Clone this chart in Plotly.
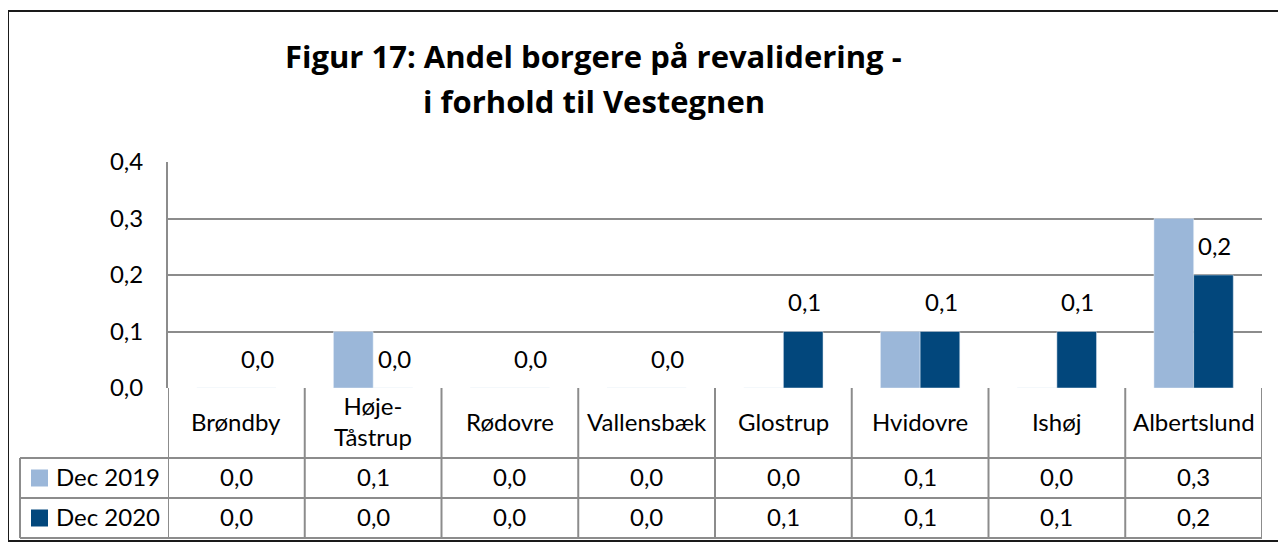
import plotly.graph_objects as go

categories = ["Brøndby", "Høje-Tåstrup", "Rødovre", "Vallensbæk", "Glostrup", "Hvidovre", "Ishøj", "Albertslund"]
category_labels = ["Brøndby", "Høje-<br>Tåstrup", "Rødovre", "Vallensbæk", "Glostrup", "Hvidovre", "Ishøj", "Albertslund"]
series_names = ["Dec 2019", "Dec 2020"]
dec2019 = [0.0, 0.1, 0.0, 0.0, 0.0, 0.1, 0.0, 0.3]
dec2020 = [0.0, 0.0, 0.0, 0.0, 0.1, 0.1, 0.1, 0.2]
y_ticks = [0.0, 0.1, 0.2, 0.3, 0.4]
title_lines = ["Figur 17: Andel borgere på revalidering -", "i forhold til Vestegnen"]

C_LIGHT = "#9BB7D9"
C_DARK = "#02477C"
GRID = "#8C8C8C"
FONT = "Lato"
TFONT = "Open Sans"
FS = 24

# page has an 8px body margin -> figure sits at (8, 8)
OFF = 8
W, H = 1286 - OFF, 545 - OFF
L, R, T, B = 168, 1262, 162, 388  # plot area in reference pixels


def px(xp):
    return (xp - L) / (R - L)


def py(yp):
    return (B - yp) / (B - T)


def fmt(v):
    return f"{v:.1f}".replace(".", ",")


fig = go.Figure()
fig.add_trace(go.Bar(x=categories, y=dec2019, name=series_names[0], marker_color=C_LIGHT, showlegend=False))
fig.add_trace(go.Bar(x=categories, y=dec2020, name=series_names[1], marker_color=C_DARK, showlegend=False))

shapes = []
annotations = []


def ann(**kw):
    d = dict(showarrow=False, xanchor="center", yanchor="middle",
             font=dict(family=FONT, size=FS, color="#000"))
    d.update(kw)
    annotations.append(d)


# outer border
shapes.append(dict(type="rect", xref="paper", yref="paper", x0=px(8), x1=px(1283), y0=py(541), y1=py(11),
                   line=dict(color="#1a1a1a", width=2), layer="below"))

# title
ann(text="<b>" + title_lines[0] + "</b>", xref="paper", yref="paper", x=px(593), y=py(56),
    font=dict(family=TFONT, size=31, color="#000"))
ann(text="<b>" + title_lines[1] + "</b>", xref="paper", yref="paper", x=px(594), y=py(101),
    font=dict(family=TFONT, size=31, color="#000"))

# data labels for Dec 2020
for c, v in zip(categories, dec2020):
    ann(text=fmt(v), x=c, y=v, xref="x", yref="y", xshift=21, yshift=30)

# table geometry (reference pixel rows)
row_cat = (388, 454)
row_s1 = (458, 496)
row_s2 = (498, 536)
tbl_left = 20

for yy in (458, 498, 538):
    shapes.append(dict(type="line", xref="paper", yref="paper", x0=px(tbl_left), x1=px(R), y0=py(yy), y1=py(yy),
                       line=dict(color=GRID, width=2)))
for i in range(len(categories) + 1):
    shapes.append(dict(type="line", xref="x", yref="paper", x0=i - 0.5, x1=i - 0.5, y0=py(388), y1=py(538),
                       line=dict(color=GRID, width=2)))
shapes.append(dict(type="line", xref="paper", yref="paper", x0=px(tbl_left), x1=px(tbl_left), y0=py(458), y1=py(538),
                   line=dict(color=GRID, width=2)))

for c, lab in zip(categories, category_labels):
    ann(text=lab, x=c, xref="x", yref="paper", y=py(sum(row_cat) / 2))

for name, vals, col, row in [(series_names[0], dec2019, C_LIGHT, (458, 498)), (series_names[1], dec2020, C_DARK, (498, 538))]:
    yc = sum(row) / 2
    shapes.append(dict(type="rect", xref="paper", yref="paper", x0=px(31), x1=px(48), y0=py(yc + 8.5), y1=py(yc - 8.5),
                       fillcolor=col, line=dict(width=0)))
    ann(text=name, xref="paper", yref="paper", x=px(54), y=py(yc - 2), xanchor="left")
    for c, v in zip(categories, vals):
        ann(text=fmt(v), x=c, xref="x", yref="paper", y=py(yc - 2))

fig.update_layout(
    width=W, height=H,
    margin=dict(l=L - OFF, r=W - (R - OFF), t=T - OFF, b=H - (B - OFF), pad=0),
    paper_bgcolor="white", plot_bgcolor="white",
    barmode="group", bargap=0.42, bargroupgap=0,
    separators=",.",
    font=dict(family=FONT, size=FS, color="#000"),
    shapes=shapes, annotations=annotations,
    xaxis=dict(showticklabels=False, showgrid=False, zeroline=False, showline=False, ticks="",
               range=[-0.5, len(categories) - 0.5]),
    yaxis=dict(range=[0, 0.4], tickvals=y_ticks, tickformat=".1f", showgrid=True, gridcolor=GRID, gridwidth=2,
               zeroline=False, showline=True, linecolor=GRID, linewidth=2, ticks="", ticklabelstandoff=18,
               tickfont=dict(family=FONT, size=FS, color="#000")),
)

fig.write_html("out.html")
